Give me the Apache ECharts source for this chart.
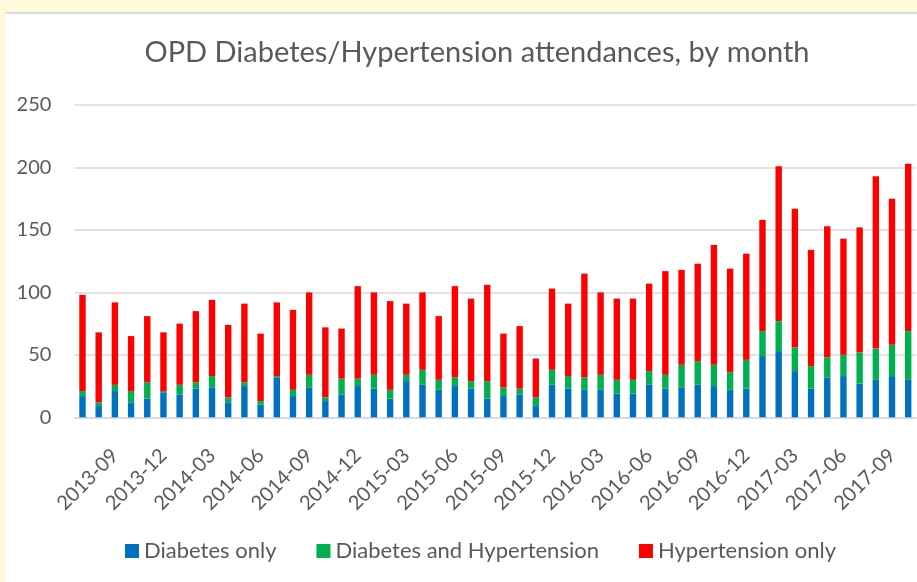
<!DOCTYPE html>
<html>
<head>
<meta charset="utf-8">
<title>OPD Diabetes/Hypertension attendances</title>
<script src="https://cdn.jsdelivr.net/npm/echarts@6/dist/echarts.min.js"></script>
<style>
  html, body { margin: 0; padding: 0; background: #fff9dc; }
  #panel { position: absolute; left: 5px; top: 12px; width: 912px; height: 570px;
           background: #ffffff; border-top: 2px solid #dcdcdc; box-sizing: border-box; }
  #main { position: absolute; left: 0; top: 0; width: 917px; height: 582px; }
</style>
</head>
<body>
<div id="panel"></div>
<div id="main"></div>
<script>
// months, 2013-07 .. 2017-10
var months = [
  '2013-07','2013-08','2013-09','2013-10','2013-11','2013-12',
  '2014-01','2014-02','2014-03','2014-04','2014-05','2014-06',
  '2014-07','2014-08','2014-09','2014-10','2014-11','2014-12',
  '2015-01','2015-02','2015-03','2015-04','2015-05','2015-06',
  '2015-07','2015-08','2015-09','2015-10','2015-11','2015-12',
  '2016-01','2016-02','2016-03','2016-04','2016-05','2016-06',
  '2016-07','2016-08','2016-09','2016-10','2016-11','2016-12',
  '2017-01','2017-02','2017-03','2017-04','2017-05','2017-06',
  '2017-07','2017-08','2017-09','2017-10'
];
// 糖尿病
var diabetesOnly = [
  17, 9, 21, 12, 15, 20, 18, 23, 24, 12, 25, 10,
  32, 17, 24, 13, 18, 25, 23, 15, 29, 26, 22, 25,
  23, 15, 17, 18, 9, 26, 23, 22, 22, 19, 19, 26,
  23, 24, 26, 25, 22, 23, 49, 53, 37, 23, 32, 33,
  27, 30, 33, 30
];
var diabetesAndHyp = [
  4, 3, 5, 9, 13, 1, 8, 5, 9, 4, 3, 3,
  1, 5, 10, 3, 13, 6, 11, 7, 5, 12, 8, 7,
  6, 14, 7, 5, 7, 12, 10, 10, 12, 11, 11, 11,
  11, 18, 19, 17, 14, 23, 20, 24, 19, 18, 16, 17,
  25, 25, 25, 39
];
var hypOnly = [
  77, 56, 66, 44, 53, 47, 49, 57, 61, 58, 63, 54,
  59, 64, 66, 56, 40, 74, 66, 71, 57, 62, 51, 73,
  66, 77, 43, 50, 31, 65, 58, 83, 66, 65, 65, 70,
  83, 76, 78, 96, 83, 85, 89, 124, 111, 93, 105, 93,
  100, 138, 117, 134
];
var seriesNames = ['Diabetes only', 'Diabetes and Hypertension', 'Hypertension only'];
var seriesColors = ['#0070c0', '#00b050', '#ff0000'];

var myChart = echarts.init(document.getElementById('main'));
var fontFam = 'Lato';

function makeSeries(name, data, color) {
  return {
    name: name,
    type: 'bar',
    stack: 'total',
    barWidth: 6.4,
    itemStyle: { color: color },
    data: data
  };
}

var option = {
  animation: false,
  textStyle: { fontFamily: fontFam },
  title: {
    text: 'OPD Diabetes/Hypertension attendances, by month',
    left: 472,
    textAlign: 'center',
    top: 33,
    textStyle: { fontFamily: fontFam, fontSize: 29, fontWeight: 'normal', color: '#595959' }
  },
  legend: {
    data: seriesNames,
    left: 120,
    top: 534,
    itemWidth: 14,
    itemHeight: 14,
    itemGap: 40,
    icon: 'rect',
    textStyle: { fontFamily: fontFam, fontSize: 22, color: '#595959', lineHeight: 24 }
  },
  grid: { left: 74.4, right: 0.7, top: 105, bottom: 164.7, containLabel: false },
  xAxis: {
    type: 'category',
    data: months,
    axisLine: { lineStyle: { color: '#d9d9d9', width: 1.5 } },
    axisTick: { show: false },
    axisLabel: {
      interval: function (index) { return (index - 2) % 3 === 0; },
      rotate: 45,
      margin: 35,
      fontFamily: fontFam,
      fontSize: 20,
      color: '#595959'
    }
  },
  yAxis: {
    type: 'value',
    min: 0,
    max: 250,
    interval: 50,
    axisLine: { show: false },
    axisTick: { show: false },
    splitLine: { lineStyle: { color: '#d9d9d9', width: 1.5 } },
    axisLabel: { margin: 23, fontFamily: fontFam, fontSize: 20, color: '#595959' }
  },
  series: [
    makeSeries(seriesNames[0], diabetesOnly, seriesColors[0]),
    makeSeries(seriesNames[1], diabetesAndHyp, seriesColors[1]),
    makeSeries(seriesNames[2], hypOnly, seriesColors[2])
  ]
};
myChart.setOption(option);
</script>
</body>
</html>
